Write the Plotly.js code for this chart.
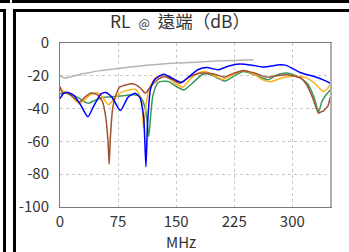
<!DOCTYPE html>
<html>
<head>
<meta charset="utf-8">
<script src="https://cdn.plot.ly/plotly-3.0.1.min.js"></script>
<style>
  html, body { margin: 0; padding: 0; background: #fff; }
  #wrap { position: relative; width: 349px; height: 252px; overflow: hidden; }
  #chart { position: absolute; left: 0; top: 0; width: 349px; height: 252px; }
  .fr { position: absolute; background: #000; pointer-events: none; }
</style>
</head>
<body>
<div id="wrap">
  <div id="chart"></div>
  <div class="fr" style="left:0;top:0;width:10px;height:3px;"></div>
  <div class="fr" style="left:12px;top:0;width:337px;height:3px;"></div>
  <div class="fr" style="left:0;top:9px;width:5px;height:3px;"></div>
  <div class="fr" style="left:3px;top:9px;width:2.5px;height:243px;"></div>
  <div class="fr" style="left:13px;top:9px;width:336px;height:3px;"></div>
  <div class="fr" style="left:13px;top:9px;width:3px;height:243px;"></div>
</div>
<script>
// Frequency (MHz) and return loss (dB) for each trace
const grayF  = [0, 3, 6, 10, 20, 35, 50, 75, 100, 125, 150, 181, 200, 225, 250];
const grayDB = [-19.8, -20.8, -21.3, -21, -19.8, -18.3, -17, -15.5, -14.2, -13.1, -12.2, -11.6, -11, -10.6, -10.2];

const blueF  = [0, 4, 9, 18, 27, 36, 44, 53, 59, 67, 78, 88, 97, 103, 108, 111, 113, 117, 123, 134, 145, 157, 168, 178, 190, 204, 218, 232, 248, 263, 284, 291, 300, 310, 317, 325, 332, 340, 349];
const blueDB = [-34, -31, -30, -32, -38, -45, -38, -31, -30.2, -33, -41.2, -33, -30.6, -33, -45, -75.5, -50, -28, -22, -19, -21.5, -24, -20, -16.3, -15, -16.3, -14, -12.8, -13.5, -14.7, -13.3, -13.5, -15.5, -18, -19, -20, -21, -22.5, -24.5];

const orangeF  = [0, 5, 12, 20, 25, 31, 38, 47, 52, 58, 63, 70, 80, 90, 97, 102, 106, 108, 111, 115, 123, 132, 142, 150, 159, 168, 178, 187, 198, 210, 220, 237, 250, 260, 272, 285, 297, 308, 319, 330, 340, 345, 349];
const orangeDB = [-28.5, -29.5, -31, -35, -37, -35, -32, -30.3, -31.5, -35, -37.7, -34, -30, -28.5, -28.2, -31, -38, -52, -38, -28, -21.4, -20, -22, -25, -26.9, -22, -18.5, -17.4, -19.5, -22.2, -20, -16.7, -19, -22, -23.6, -21.5, -20.4, -20.5, -21.4, -25, -29.6, -28, -25.5];

const greenF  = [0, 6, 14, 24, 30, 37, 45, 53, 60, 72, 84, 96, 104, 109, 112, 114.5, 117, 120, 127, 140, 150, 160, 172, 183, 190, 200, 213, 225, 237, 252, 269, 280, 293, 305, 312, 320, 328, 334, 338, 343, 349];
const greenDB = [-31, -30.5, -31, -33.5, -35.5, -36.7, -35, -33.5, -33, -32.6, -32, -31.6, -33, -38, -45, -57, -45, -32, -24, -23.5, -26.5, -28.6, -24, -19.5, -18.8, -20.5, -23.2, -20, -17.4, -19.5, -22.4, -19.5, -18.3, -20, -21.8, -25, -33, -42, -36, -32, -28.6];

const brownF  = [0, 3, 8, 16, 25, 32, 40, 48, 55, 59, 62, 63.5, 65, 68, 72, 77, 86, 94, 103, 110, 118, 127, 135, 146, 155, 166, 177, 185, 200, 212, 224, 237, 252, 267, 280, 293, 305, 311, 318, 326, 334, 337, 340, 343, 346, 349];
const brownDB = [-26.5, -30, -30.5, -32.5, -36, -33, -30.5, -31.5, -36, -45, -60, -74, -58, -40, -32, -27, -25.5, -24.9, -27, -30.6, -26, -22, -20.4, -22.5, -24.5, -21, -18.8, -18.3, -19, -20.8, -18.5, -16.7, -18.5, -20.8, -20, -19.4, -20.5, -21.4, -25, -33, -42.8, -42, -41.5, -40, -38.5, -33];

const xTicks = [0, 75, 150, 225, 300];
const yTicks = [0, -20, -40, -60, -80, -100];

const FONT = '"Noto Sans CJK TC", "Noto Sans", sans-serif';
const NB = '\u00a0';

function tr(x, y, color, w) {
  return { x: x, y: y, type: 'scatter', mode: 'lines',
           line: { color: color, width: w, shape: 'spline', smoothing: 0.6 },
           hoverinfo: 'skip', showlegend: false };
}

const data = [
  tr(grayF, grayDB, '#b4b4b4', 1.5),
  tr(greenF, greenDB, '#3a9a5c', 1.5),
  tr(orangeF, orangeDB, '#ffb020', 1.5),
  tr(brownF, brownDB, '#a0522d', 1.5),
  tr(blueF, blueDB, '#0000ff', 1.5)
];

const layout = {
  width: 349, height: 252,
  margin: { l: 60, r: 18, t: 43, b: 45 },
  paper_bgcolor: '#ffffff', plot_bgcolor: '#ffffff',
  font: { family: FONT, size: 15, color: '#333333' },
  title: { text: 'RL' + NB + NB + '<span style="font-size:12px">@</span>' + NB + NB + '遠端（dB）',
           font: { family: FONT, size: 17.5, color: '#333333' },
           xref: 'container', yref: 'container', x: 180 / 349, xanchor: 'center',
           y: 1 - 22 / 252, yanchor: 'middle' },
  xaxis: { range: [0, 350], tickvals: xTicks, ticktext: xTicks.map(String),
           showgrid: true, gridcolor: '#c8c8c8', griddash: 'dot', gridwidth: 1,
           zeroline: false, showline: true, linecolor: '#7a7a7a', linewidth: 1, mirror: true,
           ticks: '', ticklabelstandoff: 1, tickfont: { size: 15, color: '#333333' } },
  yaxis: { range: [-100, 0], tickvals: yTicks, ticktext: yTicks.map(String),
           showgrid: true, gridcolor: '#c8c8c8', griddash: 'dot', gridwidth: 1,
           zeroline: false, showline: true, linecolor: '#7a7a7a', linewidth: 1, mirror: true,
           ticks: '', ticklabelstandoff: 7, tickfont: { size: 15, color: '#333333' } },
  shapes: [
    { type: 'line', xref: 'paper', yref: 'paper', x0: 1, x1: 1, y0: 0, y1: 1,
      line: { color: '#b0b0b0', width: 2 } }
  ],
  annotations: [
    { text: 'MHz', xref: 'paper', yref: 'paper', x: (181 - 60) / 271, y: (207 - 241.5) / 164,
      xanchor: 'center', yanchor: 'middle', showarrow: false,
      font: { family: FONT, size: 15, color: '#333333' } }
  ]
};

Plotly.newPlot('chart', data, layout, { displayModeBar: false, staticPlot: true });
</script>
</body>
</html>
